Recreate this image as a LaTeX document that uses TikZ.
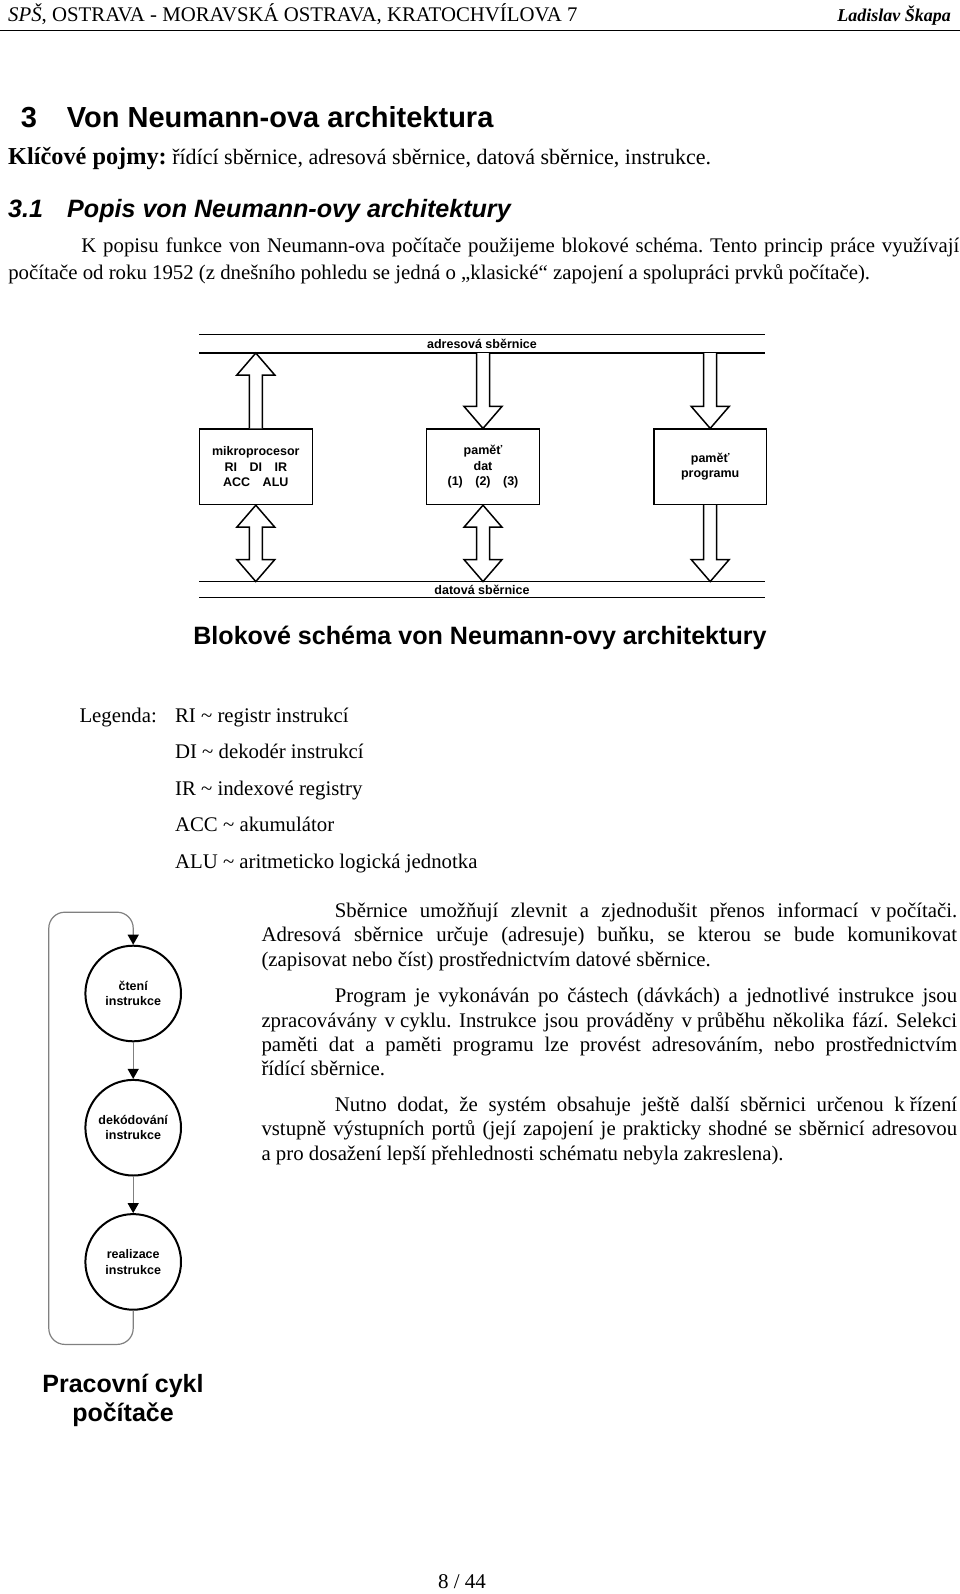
\documentclass[tikz,border=0pt]{standalone}
\usepackage{fontspec}
\setmainfont{Liberation Serif}
\setsansfont{Liberation Sans}
\usetikzlibrary{positioning,calc,arrows.meta}
\frenchspacing

\tikzset{
  txt/.style={inner sep=0pt, anchor=base west},
  telo/.style={txt, font=\fontsize{20.8}{24.4}\selectfont},
  blok/.style={draw, line width=1.5pt, minimum width=112.9pt, minimum height=75.3pt, align=center,
    font=\sffamily\bfseries\fontsize{12.5}{15.3}\selectfont},
  bus/.style={minimum width=565.4pt, inner sep=0pt, font=\sffamily\bfseries\fontsize{12.5}{15}\selectfont},
  sipka/.style={draw, line width=1.5pt, fill=white},
  faze/.style={circle, draw, line width=2pt, minimum size=95.6pt, inner sep=0pt, align=center,
    font=\sffamily\bfseries\fontsize{12.5}{15.3}\selectfont},
  cyklus/.style={draw=gray, line width=1.2pt, -{Triangle[color=black,width=11pt,length=10pt]}},
}

% hollow block arrows: #1 tail (box), #2 gives the y of the tip
\newcommand{\sipkanahoru}[2]{%
  \draw[sipka] let \p1=(#1), \p2=(#2) in
    (\x1-6.5pt,\y1) -- (\x1-6.5pt,\y2-22pt) -- (\x1-19pt,\y2-22pt) -- (\x1,\y2)
    -- (\x1+19pt,\y2-22pt) -- (\x1+6.5pt,\y2-22pt) -- (\x1+6.5pt,\y1);}
\newcommand{\sipkadolu}[2]{%
  \draw[sipka] let \p1=(#1), \p2=(#2) in
    (\x1-6.5pt,\y1) -- (\x1-6.5pt,\y2+22pt) -- (\x1-19pt,\y2+22pt) -- (\x1,\y2)
    -- (\x1+19pt,\y2+22pt) -- (\x1+6.5pt,\y2+22pt) -- (\x1+6.5pt,\y1);}
\newcommand{\sipkaobe}[2]{%
  \draw[sipka] let \p1=(#1), \p2=(#2) in
    (\x1,\y1) -- (\x1+19pt,\y1-22pt) -- (\x1+6.5pt,\y1-22pt) -- (\x1+6.5pt,\y2+22pt)
    -- (\x1+19pt,\y2+22pt) -- (\x1,\y2) -- (\x1-19pt,\y2+22pt) -- (\x1-6.5pt,\y2+22pt)
    -- (\x1-6.5pt,\y1-22pt) -- (\x1-19pt,\y1-22pt) -- cycle;}

\begin{document}
\begin{tikzpicture}[x=1pt,y=-1pt]
  \fill[white] (0,0) rectangle (960,1594);
  \useasboundingbox (0,0) rectangle (960,1594);

  % page header
  \node[telo] (skola) at (8,21.4) {\textit{SPŠ}, OSTRAVA - MORAVSKÁ OSTRAVA, KRATOCHVÍLOVA 7};
  \node[txt, anchor=base east, font=\bfseries\itshape\fontsize{18}{20}\selectfont] (autor) at (951,21.4) {Ladislav Škapa};
  \draw[line width=1.5pt] (0,30.5) -- (960,30.5);

  % headings
  \node[txt, font=\sffamily\bfseries\fontsize{29}{32}\selectfont] (kap) at (20.7,127.3) {3};
  \node[txt, font=\sffamily\bfseries\fontsize{29}{32}\selectfont] (kapnazev) at (66.7,127.3) {Von Neumann-ova architektura};
  \node[txt, font=\fontsize{22}{26}\selectfont] (pojmy) at (8,164.7)
    {{\bfseries\fontsize{24.3}{28}\selectfont Klíčové pojmy:} řídící sběrnice, adresová sběrnice, datová sběrnice, instrukce.};
  \node[txt, font=\sffamily\bfseries\itshape\fontsize{25.1}{28}\selectfont] (podkap) at (8,218) {3.1};
  \node[txt, font=\sffamily\bfseries\itshape\fontsize{25.1}{28}\selectfont] (podkapnazev) at (67,218) {Popis von Neumann-ovy architektury};

  \node[telo, text width=951pt, align=justify, font=\fontsize{20.8}{26.6}\selectfont] (uvod) at (8.1,253)
    {\hspace*{73pt}K popisu funkce von Neumann-ova počítače použijeme blokové schéma. Tento princip práce využívají\linebreak
     počítače od roku 1952 (z dnešního pohledu se jedná o „klasické“ zapojení a spolupráci prvků počítače).};

  % block diagram
  \node[bus, minimum height=18.3pt] (abus) at (482,343.7) {adresová sběrnice};
  \draw[line width=1.5pt] (abus.north west) -- (abus.north east) (abus.south west) -- (abus.south east);

  \node[blok] (mp) at (255.8,466.8) {mikroprocesor\\RI\quad DI\quad IR\\ACC\quad ALU};
  \node[blok, right=112.8pt of mp] (pd) {paměť\\dat\\(1)\quad(2)\quad(3)};
  \node[blok, right=112.8pt of pd] (pp) {paměť\\programu};

  \node[bus, minimum height=15.3pt] (dbus) at (482,589.4) {datová sběrnice};
  \draw[line width=1.5pt] (dbus.north west) -- (dbus.north east) (dbus.south west) -- (dbus.south east);

  \sipkanahoru{mp.north}{abus.south}
  \sipkadolu{abus.south -| pd.north}{pd.north}
  \sipkadolu{abus.south -| pp.north}{pp.north}
  \sipkaobe{mp.south}{dbus.north}
  \sipkaobe{pd.south}{dbus.north}
  \sipkadolu{pp.south}{dbus.north}

  \node[anchor=base, inner sep=0pt, font=\sffamily\bfseries\fontsize{25.1}{28}\selectfont] (popis) at (480,644.7)
    {Blokové schéma von Neumann-ovy architektury};

  % legend
  \node[telo] (legenda) at (79.3,722) {Legenda:};
  \foreach \t [count=\i] in {{RI \textasciitilde{} registr instrukcí},{DI \textasciitilde{} dekodér instrukcí},
      {IR \textasciitilde{} indexové registry},{ACC \textasciitilde{} akumulátor},{ALU \textasciitilde{} aritmeticko logická jednotka}}
    \node[telo] (leg\i) at (174.9,722+36.6*\i-36.6) {\t};

  % instruction cycle
  \node[faze] (cteni) at (133.2,993.5) {čtení\\instrukce};
  \node[faze, below=36.6pt of cteni] (dekod) {dekódování\\instrukce};
  \node[faze, below=36.6pt of dekod] (real) {realizace\\instrukce};
  \draw[cyklus] (cteni) -- (dekod);
  \draw[cyklus] (dekod) -- (real);
  \draw[cyklus, rounded corners=16pt] (real.south) |- (48.8,1344.4) -- (48.8,912.2) -| (cteni.north);
  \node[anchor=base, inner sep=0pt, align=center, font=\sffamily\bfseries\fontsize{25}{29.6}\selectfont] (cykl) at (123,1421.6)
    {Pracovní cykl\\počítače};

  % text beside the cycle
  \node[telo, text width=695.7pt, align=justify] (odst1) at (261.3,917.2)
    {\hspace*{73.3pt}Sběrnice umožňují zlevnit a zjednodušit přenos informací \mbox{v počítači.}\linebreak
     Adresová sběrnice určuje (adresuje) buňku, se kterou se bude komunikovat\linebreak
     (zapisovat nebo číst) prostřednictvím datové sběrnice.};
  \node[telo, text width=695.7pt, align=justify] (odst2) at (261.3,1002.7)
    {\hspace*{73.3pt}Program je vykonáván po částech (dávkách) a jednotlivé instrukce jsou\linebreak
     zpracovávány \mbox{v cyklu.} Instrukce jsou prováděny \mbox{v průběhu} několika fází. Selekci\linebreak
     paměti dat a paměti programu lze provést adresováním, nebo prostřednictvím\linebreak
     řídící sběrnice.};
  \node[telo, text width=695.7pt, align=justify] (odst3) at (261.3,1111.5)
    {\hspace*{73.3pt}Nutno dodat, že systém obsahuje ještě další sběrnici určenou \mbox{k řízení}\linebreak
     vstupně výstupních portů (její zapojení je prakticky shodné se sběrnicí adresovou\linebreak
     a pro dosažení lepší přehlednosti schématu nebyla zakreslena).};

  % page number
  \node[anchor=base, inner sep=0pt, font=\fontsize{21}{24}\selectfont] (strana) at (462,1588) {8 / 44};
\end{tikzpicture}
\end{document}
